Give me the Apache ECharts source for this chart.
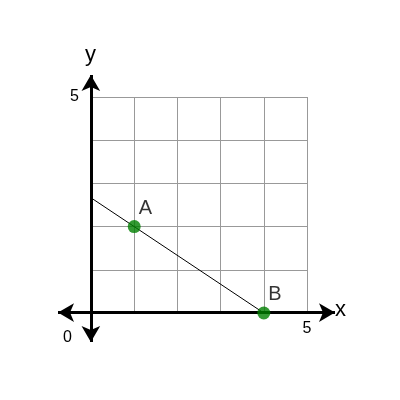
<!DOCTYPE html>
<html><head><meta charset="utf-8">
<script src="https://cdn.jsdelivr.net/npm/echarts@6/dist/echarts.min.js"></script>
<style>html,body{margin:0;background:#fff}#c{width:400px;height:400px}</style>
</head><body><div id="c"></div>
<script>
const pointNames = ['A', 'B'];
const pointX = [1, 4];
const pointY = [2, 0];
const lineX = [0, 4];
const lineY = [8/3, 0];
const axisMin = 0, axisMax = 5;
const arrowX = [-0.76, 5.65];
const arrowY = [-0.68, 5.5];

const chart = echarts.init(document.getElementById('c'));
const axisCommon = {
  type: 'value', min: axisMin, max: axisMax, interval: 1, gridIndex: 0,
  axisLine: {show: false}, axisTick: {show: false},
  splitLine: {show: true, lineStyle: {color: '#999', width: 1}}
};
const hidden = {type: 'value', gridIndex: 1, axisLine: {show: false}, axisTick: {show: false}, axisLabel: {show: false}, splitLine: {show: false}};
chart.setOption({
  animation: false,
  grid: [
    {left: 91, right: 93, top: 97, bottom: 87},
    {left: 58, right: 65, top: 75, bottom: 58}
  ],
  xAxis: [Object.assign({}, axisCommon, {
    axisLabel: {formatter: v => v === 5 ? '5' : '', color: '#000', fontSize: 16, margin: 8, fontFamily: 'Liberation Sans'}
  }), Object.assign({}, hidden, {min: arrowX[0], max: arrowX[1]})],
  yAxis: [Object.assign({}, axisCommon, {
    axisLabel: {formatter: v => v === 5 ? '5' : '', color: '#000', fontSize: 16, margin: 12, fontFamily: 'Liberation Sans'}
  }), Object.assign({}, hidden, {min: arrowY[0], max: arrowY[1]})],
  graphic: [
    {type: 'text', left: 335, top: 299, style: {text: 'x', fontSize: 22, fill: '#000', fontFamily: 'Liberation Sans'}},
    {type: 'text', left: 85, top: 44, style: {text: 'y', fontSize: 22, fill: '#000', fontFamily: 'Liberation Sans'}},
    {type: 'text', left: 63, top: 330, style: {text: '0', fontSize: 16, fill: '#000', fontFamily: 'Liberation Sans'}}
  ],
  series: [
    {
      type: 'line', xAxisIndex: 0, yAxisIndex: 0, data: lineX.map((x, i) => [x, lineY[i]]), symbol: 'none',
      lineStyle: {color: '#000', width: 1}, z: 3
    },
    {
      type: 'line', xAxisIndex: 1, yAxisIndex: 1, data: [], z: 4,
      markLine: {
        silent: true, symbol: ['arrow', 'arrow'], symbolSize: [14, 16],
        lineStyle: {color: '#000', width: 3, type: 'solid'}, label: {show: false},
        data: [
          [{coord: [arrowX[0], 0]}, {coord: [arrowX[1], 0]}],
          [{coord: [0, arrowY[0]]}, {coord: [0, arrowY[1]]}]
        ]
      }
    },
    {
      type: 'scatter', xAxisIndex: 0, yAxisIndex: 0, data: pointX.map((x, i) => [x, pointY[i], pointNames[i]]),
      symbolSize: 13, itemStyle: {color: '#008000'}, z: 5,
      label: {show: true, formatter: p => p.data[2], position: [11, -22], fontSize: 20, color: '#000', fontFamily: 'Liberation Sans'}
    }
  ]
});
</script></body></html>
